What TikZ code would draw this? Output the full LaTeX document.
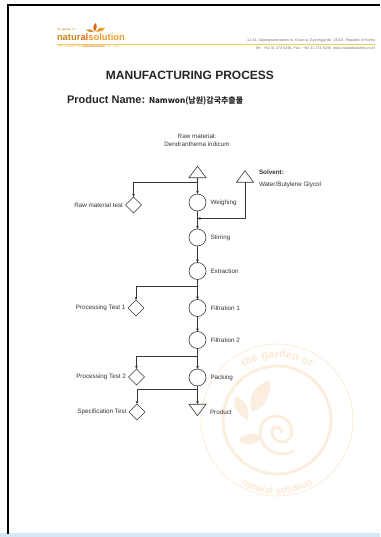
\documentclass[tikz,border=0pt]{standalone}
\usepackage{fontspec}
\setmainfont{Liberation Sans}
\newfontfamily\krfont{Noto Sans CJK KR}
\usetikzlibrary{arrows.meta,shapes.geometric,positioning,decorations.text}

\definecolor{flow}{RGB}{55,55,55}
\definecolor{natur}{RGB}{200,135,30}
\definecolor{alhl}{RGB}{225,105,20}
\definecolor{solu}{RGB}{238,155,45}
\definecolor{tagc}{RGB}{245,185,110}
\definecolor{rule}{RGB}{240,205,90}
\definecolor{wm}{RGB}{252,238,222}
\definecolor{wmtext}{RGB}{251,232,210}
\definecolor{bottomband}{RGB}{215,232,245}

\begin{document}
\begin{tikzpicture}[x=1pt,y=-1pt,
  every node/.style={inner sep=0pt,outer sep=0pt},
  lbl/.style={font=\fontsize{6.3}{7.5}\selectfont,text=black!80},
  proc/.style={circle,draw=flow,line width=0.6pt,minimum size=17pt},
  test/.style={diamond,draw=flow,line width=0.6pt,minimum width=16pt,minimum height=16pt},
  feedbox/.style={rectangle,minimum width=17pt,minimum height=11.5pt},
  shapeline/.style={draw=flow,line width=0.6pt,line join=miter},
  arr/.style={draw=flow,line width=0.6pt,-{Stealth[length=3.2pt,width=2.8pt]}},
  link/.style={draw=flow,line width=0.6pt}
]
\useasboundingbox (0,0) rectangle (380,537);

% page frame
\fill[bottomband] (0,533) rectangle (380,537);
\draw[black,line width=2pt] (8,534) -- (8,5) -- (380,5);

% watermark emblem
\begin{scope}[wm]
  \draw[line width=3pt] (277,420) circle[radius=54];
  \draw[line width=1pt] (277,420) circle[radius=76];
  \path[decorate,decoration={text along path,text align=center,
      text={|\bfseries\fontsize{11}{13}\selectfont\color{wmtext}|the garden of}}]
      (215,420) arc[start angle=180,end angle=360,radius=62];
  \path[decorate,decoration={text along path,text align=center,
      text={|\bfseries\fontsize{10}{12}\selectfont\color{wmtext}|natural  solution}}]
      (203,420) arc[start angle=180,end angle=0,radius=74];
  % spiral
  \draw[line width=3pt,line cap=round]
      (282,432) arc[start angle=0,end angle=-180,radius=5]
      arc[start angle=180,end angle=0,radius=10]
      arc[start angle=0,end angle=-180,radius=16]
      arc[start angle=180,end angle=60,radius=22];
  % leaves
  \fill (252,412) .. controls (246,396) and (256,384) .. (270,380)
        .. controls (272,396) and (264,408) .. cycle;
  \fill (248,420) .. controls (236,414) and (232,404) .. (236,396)
        .. controls (246,400) and (250,410) .. cycle;
  \fill (262,438) .. controls (254,446) and (244,446) .. (238,440)
        .. controls (246,432) and (256,432) .. cycle;
\end{scope}

% letterhead
\node[anchor=base west,font=\fontsize{3}{3.5}\selectfont,text=natur] (gardenof) at (57,31) {the garden of};
\node[anchor=base west,font=\bfseries\fontsize{9.4}{11}\selectfont] (brand) at (57,40.5)
  {\textcolor{natur}{natur}\textcolor{alhl}{al}\textcolor{solu}{solution}};
\fill[alhl] (95,31.5) .. controls (92,28) and (93,25) .. (96,23) .. controls (97,27) and (97,29) .. cycle;
\fill[solu] (96,31.5) .. controls (99,27) and (102,27) .. (105,28) .. controls (103,31) and (100,32) .. cycle;
\fill[natur] (94,31.5) .. controls (91,29) and (88,29) .. (86,30) .. controls (88,32) and (91,32.5) .. cycle;
\node[anchor=base west,font=\fontsize{3.6}{4}\selectfont,text=tagc] (tagline) at (57,48)
  {The Garden of \textcolor{alhl}{Naturalsolution} Co., Ltd.};
\draw[rule,line width=0.8pt] (57,44) -- (375,44);
\node[anchor=base east,font=\fontsize{3.7}{4}\selectfont,text=black!55] (addr) at (375,41.5)
  {12-24, Gajangsaneopseo-ro, Osan-si, Gyeonggi-do, 18103, Republic of Korea};
\node[anchor=base east,font=\fontsize{3.7}{4}\selectfont,text=black!55] (tel) at (375,50)
  {Tel : +82 31 374 5246, Fax : +82 31 374 5248 \ www.naturalsolution.co.kr};

% headings
\node[font=\bfseries\fontsize{12}{14}\selectfont,text=black!85] (title) at (190,75) {MANUFACTURING PROCESS};
\node[anchor=base west,font=\bfseries\fontsize{11}{13}\selectfont,text=black!85] (pname) at (67,104) {Product Name:};
\node[anchor=base west,font=\krfont\bfseries\fontsize{8}{10}\selectfont,text=black!85] (pvalue) at (149,104) {Namwon(남원)감국추출물};

% inputs
\node[lbl,align=center] (rawtxt) at (197,140) {Raw material:\\Dendranthema indicum};
\node[feedbox] (rawtri) at (197.5,172) {};
\draw[shapeline] (rawtri.south west) -- (rawtri.south east) -- (rawtri.north) -- cycle;

\node[feedbox] (solvtri) at (245,176.5) {};
\draw[shapeline] (solvtri.south west) -- (solvtri.south east) -- (solvtri.north) -- cycle;
\node[lbl,anchor=west,font=\bfseries\fontsize{6.3}{7.5}\selectfont] (solvhead) at (259,172.5) {Solvent:};
\node[lbl,anchor=west] (solvtxt) at (259,184.5) {Water/Butylene Glycol};

% process steps
\node[proc] (weigh) at (197.5,202.5) {};
\node[proc] (stir)  at (197.5,237.5) {};
\node[proc] (extr)  at (197.5,271)   {};
\node[proc] (filt1) at (197.5,308)   {};
\node[proc] (filt2) at (197.5,340)   {};
\node[proc] (pack)  at (197.5,377.5) {};
\node[feedbox] (prod) at (197.5,410) {};
\draw[shapeline] (prod.north west) -- (prod.north east) -- (prod.south) -- cycle;

\node[lbl,right=4.5pt of weigh] (weighl) {Weighing};
\node[lbl,right=4.5pt of stir]  (stirl)  {Stirring};
\node[lbl,right=4.5pt of extr]  (extrl)  {Extraction};
\node[lbl,right=4.5pt of filt1] (filt1l) {Filtration 1};
\node[lbl,right=4.5pt of filt2] (filt2l) {Filtration 2};
\node[lbl,right=4.5pt of pack]  (packl)  {Packing};
\node[lbl,anchor=west] (prodl) at (210,412) {Product};

% tests
\node[test] (rawtest) at (133.5,205) {};
\node[test] (pt1) at (136,308) {};
\node[test] (pt2) at (136.5,377) {};
\node[test] (spec) at (137,412) {};
\node[lbl,left=2.5pt of rawtest] (rawtestl) {Raw material test};
\node[lbl,left=2.5pt of pt1] (pt1l) {Processing Test 1};
\node[lbl,left=2.5pt of pt2] (pt2l) {Processing Test 2};
\node[lbl,left=2.5pt of spec] (specl) {Specification Test};

% branch and junction points on the main line
\coordinate (b1) at (197.5,182);
\coordinate (j1) at (197.5,218.5);
\coordinate (b2) at (197.5,286);
\coordinate (b3) at (197.5,356);
\coordinate (b4) at (197.5,389.5);

% flow
\draw[arr] (rawtri.south) -- (weigh);
\draw[arr] (b1) -| (rawtest.north);
\draw[arr] (solvtri.south) |- (j1);
\draw[arr] (weigh) -- (stir);
\draw[arr] (stir) -- (extr);
\draw[arr] (extr) -- (filt1);
\draw[arr] (b2) -| (pt1.north);
\draw[arr] (filt1) -- (filt2);
\draw[arr] (filt2) -- (pack);
\draw[arr] (b3) -| (pt2.north);
\draw[arr] (pack) -- (prod.north);
\draw[arr] (b4) -| (spec.north);
\end{tikzpicture}
\end{document}
